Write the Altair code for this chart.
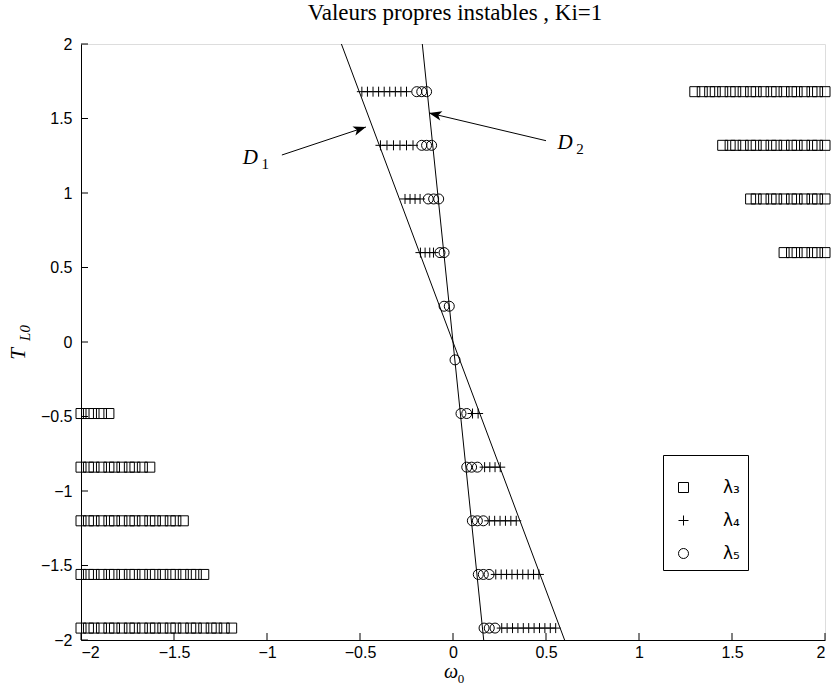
import math
import altair as alt
import pandas as pd

# plot area size in pixels
W, H = 744, 596

# axis ticks (both axes)
tick_values = [-2, -1.5, -1, -0.5, 0, 0.5, 1, 1.5, 2]

# lambda_3 (squares): T_L0 level and the real parts found at that level
lam3_T = [-1.92, -1.56, -1.20, -0.84, -0.48, 0.60, 0.96, 1.32, 1.68]
lam3_omega = [
    [-2.00, -1.96, -1.93, -1.89, -1.85, -1.82, -1.78, -1.74, -1.71, -1.67, -1.63, -1.60,
     -1.56, -1.52, -1.49, -1.45, -1.41, -1.38, -1.34, -1.30, -1.27, -1.23, -1.19],
    [-2.00, -1.96, -1.93, -1.89, -1.85, -1.82, -1.78, -1.74, -1.71, -1.67, -1.63, -1.60,
     -1.56, -1.52, -1.49, -1.45, -1.41, -1.38, -1.34],
    [-2.00, -1.96, -1.93, -1.89, -1.85, -1.82, -1.78, -1.74, -1.71, -1.67, -1.63, -1.60,
     -1.56, -1.52, -1.49, -1.45],
    [-2.00, -1.96, -1.93, -1.89, -1.85, -1.82, -1.78, -1.74, -1.71, -1.67, -1.63],
    [-2.00, -1.96, -1.93, -1.89, -1.85],
    [2.00, 1.96, 1.93, 1.89, 1.85, 1.82, 1.78],
    [2.00, 1.96, 1.93, 1.89, 1.85, 1.82, 1.78, 1.74, 1.71, 1.67, 1.63, 1.60],
    [2.00, 1.96, 1.93, 1.89, 1.85, 1.82, 1.78, 1.74, 1.71, 1.67, 1.63, 1.60,
     1.56, 1.52, 1.49, 1.45],
    [2.00, 1.96, 1.93, 1.89, 1.85, 1.82, 1.78, 1.74, 1.71, 1.67, 1.63, 1.60,
     1.56, 1.52, 1.49, 1.45, 1.41, 1.38, 1.34, 1.30],
]

# lambda_4 (plus signs)
lam4_T = [1.68, 1.32, 0.96, 0.60, -0.48, -0.84, -1.20, -1.56, -1.92]
lam4_omega = [
    [-0.49, -0.46, -0.43, -0.40, -0.37, -0.34, -0.31, -0.28, -0.25],
    [-0.39, -0.355, -0.32, -0.285, -0.25, -0.215],
    [-0.258, -0.231, -0.204, -0.177],
    [-0.175, -0.15, -0.125, -0.105],
    [0.105, 0.135],
    [0.17, 0.198, 0.226, 0.254],
    [0.195, 0.224, 0.253, 0.282, 0.311, 0.34],
    [0.23, 0.259, 0.288, 0.317, 0.346, 0.375, 0.404, 0.433, 0.462],
    [0.262, 0.291, 0.32, 0.349, 0.378, 0.407, 0.436, 0.465, 0.494, 0.523, 0.552],
]

# lambda_5 (circles)
lam5_T = [1.68, 1.32, 0.96, 0.60, 0.24, -0.12, -0.48, -0.84, -1.20, -1.56, -1.92]
lam5_omega = [
    [-0.195, -0.168, -0.142],
    [-0.168, -0.142, -0.115],
    [-0.133, -0.104, -0.077],
    [-0.07, -0.048],
    [-0.048, -0.02],
    [0.011],
    [0.043, 0.074],
    [0.074, 0.10, 0.131],
    [0.104, 0.131, 0.163],
    [0.136, 0.163, 0.194],
    [0.167, 0.195, 0.226],
]

series_names = ["λ₃", "λ₄", "λ₅"]
series_shapes = ["square", "M-1,0H1M0,-1V1", "circle"]

# straight lines D1 and D2 through the origin (end points at T_L0 = -2 and 2)
line_names = ["D1", "D1", "D2", "D2"]
line_T = [-2.0, 2.0, -2.0, 2.0]
line_omega = [0.60, -0.60, 0.165, -0.165]

# annotation arrows: start and tip in (omega, T_L0)
arrow_names = ["D1", "D2"]
arrow_start = [(-0.92, 1.255), (0.50, 1.351)]
arrow_tip = [(-0.468, 1.443), (-0.129, 1.537)]
label_pos = [(-1.09, 1.236), (0.602, 1.337)]
label_sub = ["1", "2"]

rows = []
for name, Ts, oms in [(series_names[0], lam3_T, lam3_omega),
                      (series_names[1], lam4_T, lam4_omega),
                      (series_names[2], lam5_T, lam5_omega)]:
    for T, row in zip(Ts, oms):
        for om in row:
            rows.append({"omega": om, "T": T, "serie": name})
pts = pd.DataFrame(rows)

lines_df = pd.DataFrame({"line": line_names, "omega": line_omega, "T": line_T})

shaft_rows, head_rows = [], []
px_x, px_y = W / 4.0, H / 4.0
for name, (x0, y0), (x1, y1) in zip(arrow_names, arrow_start, arrow_tip):
    shaft_rows += [{"arrow": name, "omega": x0, "T": y0, "k": 0},
                   {"arrow": name, "omega": x1, "T": y1, "k": 1}]
    dx = (x1 - x0) * px_x
    dy = -(y1 - y0) * px_y
    ang = math.degrees(math.atan2(dx, -dy)) % 360
    head_rows.append({"arrow": name, "omega": x1, "T": y1, "ang": ang})
shaft_df = pd.DataFrame(shaft_rows)
head_df = pd.DataFrame(head_rows)
lab_df = pd.DataFrame({"omega": [p[0] for p in label_pos], "T": [p[1] for p in label_pos],
                       "sub": label_sub})

xs = alt.Scale(domain=[-2, 2], nice=False, zero=False)
ys = alt.Scale(domain=[-2, 2], nice=False, zero=False)


def X(field="omega"):
    return alt.X(f"{field}:Q", scale=xs, title=None)


def Y(field="T"):
    return alt.Y(f"{field}:Q", scale=ys, title=None)


axis_style = dict(values=tick_values, format="~g", ticks=False, domainColor="black",
                  domainWidth=1, labelColor="black", grid=False,
                  labelFont="Liberation Sans", labelFontSize=16)

points = alt.Chart(pts).mark_point(filled=False, color="black", strokeWidth=1,
                                   size=100, opacity=1).encode(
    x=alt.X("omega:Q", scale=xs, title=None, axis=alt.Axis(labelPadding=4, **axis_style)),
    y=alt.Y("T:Q", scale=ys, title=None, axis=alt.Axis(labelPadding=9, **axis_style)),
    shape=alt.Shape("serie:N", sort=series_names,
                    scale=alt.Scale(domain=series_names, range=series_shapes),
                    legend=alt.Legend(orient="none", legendX=582, legendY=411,
                                      title=" ", titleFontSize=10, titlePadding=6,
                                      padding=8, strokeColor="black", fillColor="white",
                                      symbolOffset=4, labelOffset=31, rowPadding=15,
                                      symbolSize=100, symbolStrokeWidth=1,
                                      symbolStrokeColor="black",
                                      labelFont="DejaVu Sans", labelFontSize=17,
                                      labelColor="black")),
)

lines = alt.Chart(lines_df).mark_line(color="black", strokeWidth=1).encode(
    x=X(), y=Y(), detail="line:N")

shafts = alt.Chart(shaft_df).mark_line(color="black", strokeWidth=1).encode(
    x=X(), y=Y(), detail="arrow:N", order="k:Q")

heads = alt.Chart(head_df).mark_point(filled=True, color="black", opacity=1,
                                      size=160, shape="M0,0L-0.75,2L0,1.5L0.75,2Z").encode(
    x=X(), y=Y(), angle=alt.Angle("ang:Q", scale=None))

d_main = alt.Chart(lab_df).mark_text(text="D", font="Liberation Serif", fontStyle="italic",
                                     fontSize=21, color="black").encode(x=X(), y=Y())
d_sub = alt.Chart(lab_df).mark_text(font="Liberation Serif", fontSize=15, color="black",
                                    dx=15, dy=6).encode(x=X(), y=Y(), text="sub:N")

# tick marks drawn inside the plot area
xt = alt.Chart(pd.DataFrame({"v": tick_values})).mark_rule(color="black", strokeWidth=1).encode(
    x=X("v"), y=alt.value(H), y2=alt.value(H - 7))
yt = alt.Chart(pd.DataFrame({"v": tick_values})).mark_rule(color="black", strokeWidth=1).encode(
    y=Y("v"), x=alt.value(0), x2=alt.value(7))

# title and axis titles  omega_0  and  T_L0
title = alt.Chart().mark_text(text="Valeurs propres instables , Ki=1", font="Liberation Serif",
                              fontSize=23, color="black").encode(
    x=alt.value(W / 2 + 2), y=alt.value(-31))
xtitle = alt.Chart().mark_text(text="ω", font="Liberation Serif", fontStyle="italic",
                               fontSize=20, color="black").encode(
    x=alt.value(370), y=alt.value(628))
xtitle_sub = alt.Chart().mark_text(text="0", font="Liberation Serif", fontSize=13,
                                   color="black").encode(x=alt.value(380), y=alt.value(635))
ytitle = alt.Chart().mark_text(text="T", font="Liberation Serif", fontStyle="italic",
                               fontSize=21, color="black", angle=270).encode(
    x=alt.value(-62), y=alt.value(310))
ytitle_sub = alt.Chart().mark_text(text="L0", font="Liberation Serif", fontStyle="italic",
                                   fontSize=15, color="black", angle=270).encode(
    x=alt.value(-56), y=alt.value(289))

chart = alt.layer(
    lines, shafts, heads, xt, yt, points, d_main, d_sub,
    title, xtitle, xtitle_sub, ytitle, ytitle_sub,
).properties(
    width=W, height=H,
    autosize=alt.AutoSizeParams(type="none"),
    padding={"left": 81, "top": 44, "right": 10, "bottom": 52},
).configure_view(stroke=None).configure(background="white")

chart.save("out.html", embed_options={"renderer": "svg", "actions": False})
